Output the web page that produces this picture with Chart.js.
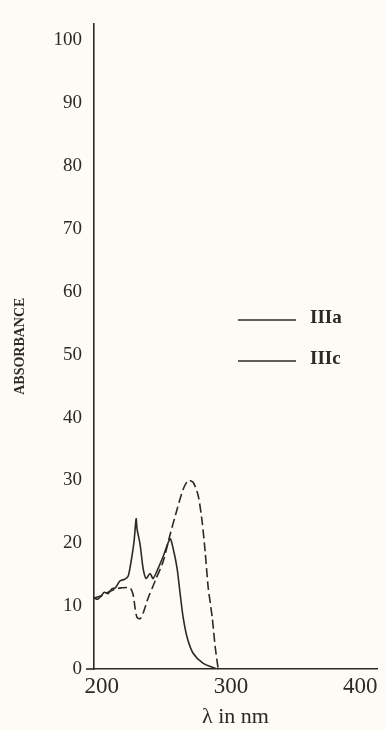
<!DOCTYPE html>
<html>
<head>
<meta charset="utf-8">
<script src="https://cdn.jsdelivr.net/npm/chart.js@4"></script>
<style>
  html, body { margin: 0; padding: 0; background: #fcfbf6; }
  #wrap { position: relative; width: 385px; height: 730px; }
</style>
</head>
<body>
<div id="wrap"><canvas id="uvChart" width="385" height="730"></canvas></div>
<script>
// UV spectra of IIIa and IIIc
var xTicks = [200, 300, 400];
var yTicks = [0, 10, 20, 30, 40, 50, 60, 70, 80, 90, 100];

var nmIIIa  = [194, 197, 199.5, 202, 205, 208, 210.5, 214, 218, 220.5, 222.7, 225, 226.6, 227.3, 229.7, 232, 234.3, 237.4, 239.7, 243.6, 247.5, 252.9, 255.2, 258.3, 260.7, 263, 266.1, 270.7, 278.5, 289.3];
var absIIIa = [11.3, 11.1, 11.6, 12.2, 12.0, 12.8, 12.9, 14.0, 14.3, 14.8, 17.1, 20.3, 23.9, 22.3, 19.8, 16.0, 14.4, 15.2, 14.4, 16.0, 17.9, 20.7, 19.2, 16.0, 11.9, 8.2, 5.0, 2.5, 0.9, 0];

var nmIIIc  = [194, 199.4, 204.9, 210.3, 214.9, 221.9, 224.2, 225.8, 227.3, 229.7, 232, 235.9, 239.7, 242.1, 247.5, 252.9, 258.3, 263, 266.9, 270.7, 274.6, 277.7, 280, 282.4, 285.5, 287.8, 290.1];
var absIIIc = [11.3, 11.6, 12.2, 12.7, 12.9, 12.9, 11.9, 9.7, 8.2, 8.0, 8.9, 11.3, 13.2, 14.4, 17.1, 21.4, 25.4, 28.6, 30.0, 29.7, 27.6, 23.4, 18.7, 12.9, 8.2, 3.5, 0];

var seriesNames = ['IIIa', 'IIIc'];

function toPoints(xs, ys){
  return xs.map(function(x, i){ return { x: x, y: ys[i] }; });
}

var ink = '#2b2a22';
var serif = "'Liberation Serif', 'DejaVu Serif', serif";

// legend drawn inside the plot, both samples shown with plain lines as in the print
var legendPlugin = {
  id: 'printLegend',
  afterDraw: function(chart){
    var ctx = chart.ctx;
    var rows = [320, 361];
    ctx.save();
    ctx.strokeStyle = ink;
    ctx.fillStyle = ink;
    ctx.lineWidth = 1.4;
    ctx.font = 'bold 19px ' + serif;
    ctx.textBaseline = 'middle';
    seriesNames.forEach(function(name, i){
      ctx.beginPath();
      ctx.moveTo(238, rows[i]);
      ctx.lineTo(296, rows[i]);
      ctx.stroke();
      ctx.fillText(name, 310, rows[i] - 2);
    });
    // x axis line runs a little past the y axis on the left
    ctx.beginPath();
    ctx.lineWidth = 1.6;
    ctx.moveTo(86, chart.chartArea.bottom);
    ctx.lineTo(chart.chartArea.left, chart.chartArea.bottom);
    ctx.stroke();
    ctx.restore();
  }
};

var cfg = {
  type: 'line',
  data: {
    datasets: [
      {
        label: seriesNames[0],
        data: toPoints(nmIIIa, absIIIa),
        borderColor: ink,
        borderWidth: 1.6,
        pointRadius: 0,
        tension: 0.25,
        fill: false
      },
      {
        label: seriesNames[1],
        data: toPoints(nmIIIc, absIIIc),
        borderColor: ink,
        borderWidth: 1.6,
        borderDash: [9, 4],
        pointRadius: 0,
        tension: 0.25,
        fill: false
      }
    ]
  },
  options: {
    responsive: false,
    animation: false,
    layout: { padding: { top: 15, right: 8, left: 0, bottom: 0 } },
    plugins: {
      legend: { display: false },
      tooltip: { enabled: false }
    },
    scales: {
      x: {
        type: 'linear',
        min: 194,
        max: 413,
        afterBuildTicks: function(axis){ axis.ticks = xTicks.map(function(v){ return { value: v }; }); },
        afterFit: function(axis){ axis.height = 61; },
        grid: { display: false, drawTicks: false },
        border: { display: true, color: ink, width: 1.6 },
        ticks: { color: ink, font: { family: serif, size: 23 }, padding: 4, maxRotation: 0 },
        title: { display: true, text: 'λ in nm', color: ink, font: { family: serif, size: 22 }, padding: { top: 0, bottom: 0 } }
      },
      y: {
        type: 'linear',
        min: 0,
        max: 102.7,
        afterBuildTicks: function(axis){ axis.ticks = yTicks.map(function(v){ return { value: v }; }); },
        afterFit: function(axis){ axis.width = 94; },
        grid: { display: false, drawTicks: false },
        border: { display: true, color: ink, width: 1.6 },
        ticks: { color: ink, font: { family: serif, size: 19 }, padding: 12 },
        title: { display: true, text: 'ABSORBANCE', color: ink, font: { family: serif, size: 14, weight: 'bold' }, padding: { top: 12, bottom: 0 } }
      }
    }
  },
  plugins: [legendPlugin]
};

new Chart(document.getElementById('uvChart').getContext('2d'), cfg);
</script>
</body>
</html>
